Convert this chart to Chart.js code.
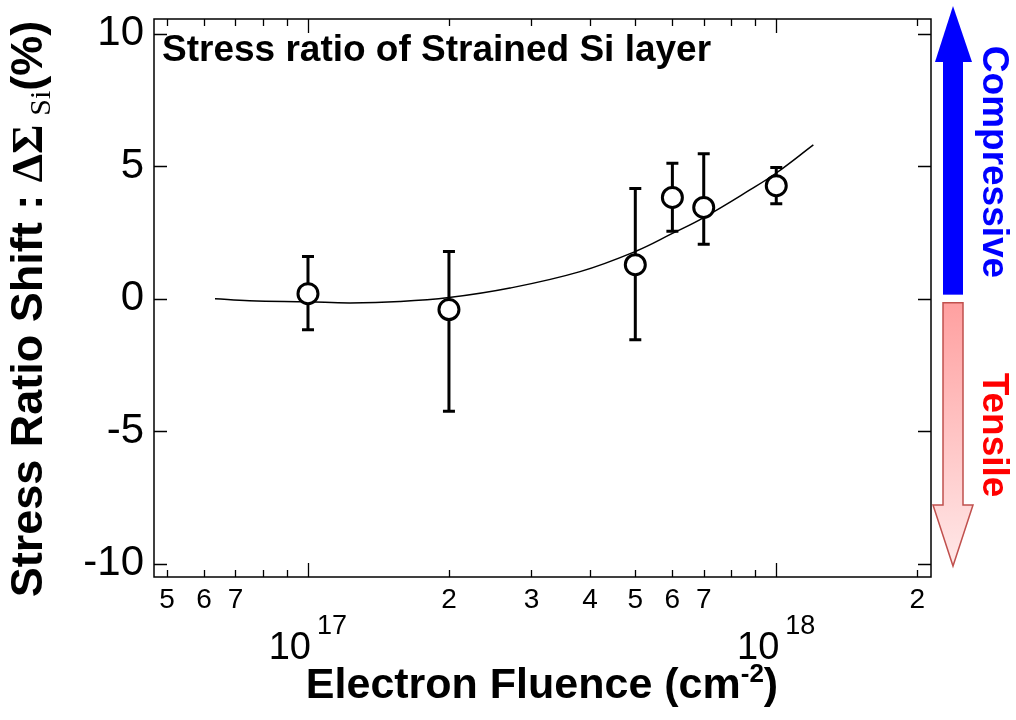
<!DOCTYPE html>
<html>
<head>
<meta charset="utf-8">
<script src="https://cdn.jsdelivr.net/npm/chart.js@4.4.1/dist/chart.umd.min.js"></script>
<style>
  html, body { margin: 0; padding: 0; background: #fff; }
  #wrap { width: 1016px; height: 720px; }
</style>
</head>
<body>
<div id="wrap"><canvas id="stress-chart" width="1016" height="720"></canvas></div>
<script>
// measured points (fluence in cm^-2, shift in %)
const fluence = [1e17, 2e17, 5e17, 6e17, 7e17, 1e18];
const shift = [0.19, -0.41, 1.28, 3.82, 3.44, 4.26];
const errLow = [-1.17, -4.25, -1.55, 2.54, 2.05, 3.58];
const errHigh = [1.59, 1.78, 4.16, 5.11, 5.47, 4.95];

// fitted curve
const fitFluence = [6.33e16, 7.5e16, 1e17, 1.23e17, 1.57e17, 2e17, 2.7e17, 3.81e17, 5e17, 6e17, 7e17, 8.8e17, 1e18, 1.2e18];
const fitShift = [0.0, -0.08, -0.12, -0.16, -0.11, 0.04, 0.40, 1.02, 1.78, 2.46, 3.06, 4.11, 4.74, 5.8];

// axes
const xTickValues = [5e16, 6e16, 7e16, 8e16, 9e16, 1e17, 2e17, 3e17, 4e17, 5e17, 6e17, 7e17, 8e17, 9e17, 1e18, 2e18];
const xTickLabels = ['5', '6', '7', '', '', '', '2', '3', '4', '5', '6', '7', '', '', '', '2'];
const xDecades = [1e17, 1e18];
const xDecadeExp = ['17', '18'];
const yTickValues = [-10, -5, 0, 5, 10];

const SANS = 'Arial, "Liberation Sans", sans-serif';
const SERIF = '"Times New Roman", "Liberation Serif", serif';

// helpers
function drawParts(ctx, parts, x, y) {
    let cx = x;
    parts.forEach(p => {
        ctx.font = p.font;
        ctx.fillText(p.text, cx, y + (p.dy || 0));
        cx += ctx.measureText(p.text).width + (p.gap || 0);
    });
}
function partsWidth(ctx, parts) {
    let w = 0;
    parts.forEach(p => {
        ctx.font = p.font;
        w += ctx.measureText(p.text).width + (p.gap || 0);
    });
    return w;
}

// error bars, drawn just before the circles
const errorBarPlugin = {
    id: 'errorBars',
    beforeDatasetDraw(chart, args) {
        if (args.index !== 1) return;
        const { ctx, scales: { x, y } } = chart;
        ctx.save();
        ctx.strokeStyle = '#000';
        ctx.lineWidth = 3;
        fluence.forEach((f, i) => {
            const px = x.getPixelForValue(f);
            const top = y.getPixelForValue(errHigh[i]);
            const bot = y.getPixelForValue(errLow[i]);
            ctx.beginPath();
            ctx.moveTo(px, top); ctx.lineTo(px, bot);
            ctx.moveTo(px - 6, top); ctx.lineTo(px + 6, top);
            ctx.moveTo(px - 6, bot); ctx.lineTo(px + 6, bot);
            ctx.stroke();
        });
        ctx.restore();
    }
};

// frame, inward ticks, titles and the arrows on the right
const decorPlugin = {
    id: 'decor',
    afterDraw(chart) {
        const { ctx, chartArea: a, scales: { x, y } } = chart;
        ctx.save();

        // frame
        ctx.strokeStyle = '#000';
        ctx.lineWidth = 1.5;
        ctx.strokeRect(a.left, a.top, a.right - a.left, a.bottom - a.top);

        // x ticks on bottom and top
        ctx.lineWidth = 1.3;
        ctx.beginPath();
        xTickValues.forEach(v => {
            const px = Math.round(x.getPixelForValue(v)) + 0.5;
            const len = xDecades.includes(v) ? 14 : 7;
            ctx.moveTo(px, a.bottom); ctx.lineTo(px, a.bottom - len);
            ctx.moveTo(px, a.top); ctx.lineTo(px, a.top + len);
        });
        // y ticks on left and right
        yTickValues.forEach(v => {
            const py = Math.round(y.getPixelForValue(v)) + 0.5;
            ctx.moveTo(a.left, py); ctx.lineTo(a.left + 13, py);
            ctx.moveTo(a.right, py); ctx.lineTo(a.right - 13, py);
        });
        ctx.stroke();

        ctx.fillStyle = '#000';
        ctx.textBaseline = 'alphabetic';

        // decade labels 10^17, 10^18
        xDecades.forEach((v, i) => {
            const px = x.getPixelForValue(v);
            ctx.font = '38px ' + SANS;
            ctx.textAlign = 'right';
            ctx.fillText('10', px + 3, 659);
            ctx.font = '27px ' + SANS;
            ctx.textAlign = 'left';
            ctx.fillText(xDecadeExp[i], px + 9, 634);
        });

        // inner title
        ctx.textAlign = 'left';
        ctx.font = 'bold 37px ' + SANS;
        ctx.fillText('Stress ratio of Strained Si layer', a.left + 8, 61);

        // x axis title
        const xParts = [
            { text: 'Electron Fluence (cm', font: 'bold 43px ' + SANS },
            { text: '-2', font: 'bold 26px ' + SANS, dy: -16 },
            { text: ')', font: 'bold 43px ' + SANS }
        ];
        const xw = partsWidth(ctx, xParts);
        drawParts(ctx, xParts, 542 - xw / 2, 698);

        // y axis title, rotated
        const yParts = [
            { text: 'Stress Ratio Shift : ', font: 'bold 45px ' + SANS },
            { text: '\u0394\u03A3', font: 'bold 45px ' + SERIF, gap: 9 },
            { text: 'Si', font: '30px ' + SERIF, dy: 8 },
            { text: '(%)', font: 'bold 45px ' + SANS }
        ];
        const yw = partsWidth(ctx, yParts);
        ctx.save();
        ctx.translate(42, 309);
        ctx.rotate(-Math.PI / 2);
        drawParts(ctx, yParts, -yw / 2, 0);
        ctx.restore();

        // arrows, anchored on the zero line
        const y0 = y.getPixelForValue(0);
        const ax = 953;

        // compressive (up, blue)
        ctx.fillStyle = '#0000ff';
        ctx.fillRect(ax - 10, 62, 20, y0 - 4 - 62);
        ctx.beginPath();
        ctx.moveTo(ax - 18, 62); ctx.lineTo(ax + 19, 62); ctx.lineTo(ax, 6);
        ctx.closePath();
        ctx.fill();

        // tensile (down, pink gradient)
        const top = y0 + 4, headY = 505, tip = 566;
        const grad = ctx.createLinearGradient(0, top, 0, tip);
        grad.addColorStop(0, '#ffa0a0');
        grad.addColorStop(1, '#ffe8e8');
        ctx.fillStyle = grad;
        ctx.strokeStyle = '#c0504d';
        ctx.lineWidth = 1.5;
        ctx.beginPath();
        ctx.moveTo(ax - 10, top); ctx.lineTo(ax + 10, top);
        ctx.lineTo(ax + 10, headY); ctx.lineTo(ax + 20, headY);
        ctx.lineTo(ax, tip);
        ctx.lineTo(ax - 20, headY); ctx.lineTo(ax - 10, headY);
        ctx.closePath();
        ctx.fill();
        ctx.stroke();

        // arrow labels, reading top to bottom
        ctx.font = 'bold 37px ' + SANS;
        ctx.textAlign = 'center';
        ctx.save();
        ctx.translate(983, 162);
        ctx.rotate(Math.PI / 2);
        ctx.fillStyle = '#0000ff';
        ctx.fillText('Compressive', 0, 0);
        ctx.restore();
        ctx.save();
        ctx.translate(983, 435);
        ctx.rotate(Math.PI / 2);
        ctx.fillStyle = '#ff0000';
        ctx.fillText('Tensile', 0, 0);
        ctx.restore();

        ctx.restore();
    }
};

const ctx = document.getElementById('stress-chart').getContext('2d');
new Chart(ctx, {
    data: {
        datasets: [
            {
                type: 'line',
                data: fitFluence.map((f, i) => ({ x: f, y: fitShift[i] })),
                borderColor: '#000',
                borderWidth: 1.5,
                pointRadius: 0,
                tension: 0.4,
                fill: false,
                order: 2
            },
            {
                type: 'scatter',
                data: fluence.map((f, i) => ({ x: f, y: shift[i] })),
                pointRadius: 10,
                borderWidth: 3,
                borderColor: '#000',
                backgroundColor: '#fff',
                order: 1
            }
        ]
    },
    options: {
        responsive: false,
        animation: false,
        devicePixelRatio: 1,
        layout: { padding: { left: 0, top: 19, right: 85, bottom: 0 } },
        plugins: { legend: { display: false }, tooltip: { enabled: false } },
        scales: {
            x: {
                type: 'logarithmic',
                min: 4.69e16,
                max: 2.14e18,
                afterBuildTicks: (scale) => { scale.ticks = xTickValues.map(v => ({ value: v })); },
                afterFit: (scale) => {
                    scale.height = 143;
                    scale.paddingLeft = 0;
                    scale.paddingRight = 0;
                },
                grid: { display: false, drawTicks: false },
                border: { display: false },
                ticks: {
                    autoSkip: false,
                    maxRotation: 0,
                    padding: 6,
                    color: '#000',
                    font: { family: SANS, size: 28 },
                    callback: (v, i) => xTickLabels[i]
                }
            },
            y: {
                type: 'linear',
                min: -10.5,
                max: 10.55,
                afterBuildTicks: (scale) => { scale.ticks = yTickValues.map(v => ({ value: v })); },
                afterFit: (scale) => {
                    scale.width = 154;
                    scale.paddingTop = 0;
                    scale.paddingBottom = 0;
                },
                grid: { display: false, drawTicks: false },
                border: { display: false },
                ticks: {
                    padding: 10,
                    color: '#000',
                    font: { family: SANS, size: 42 },
                    callback: (v) => String(v)
                }
            }
        }
    },
    plugins: [errorBarPlugin, decorPlugin]
});
</script>
</body>
</html>
